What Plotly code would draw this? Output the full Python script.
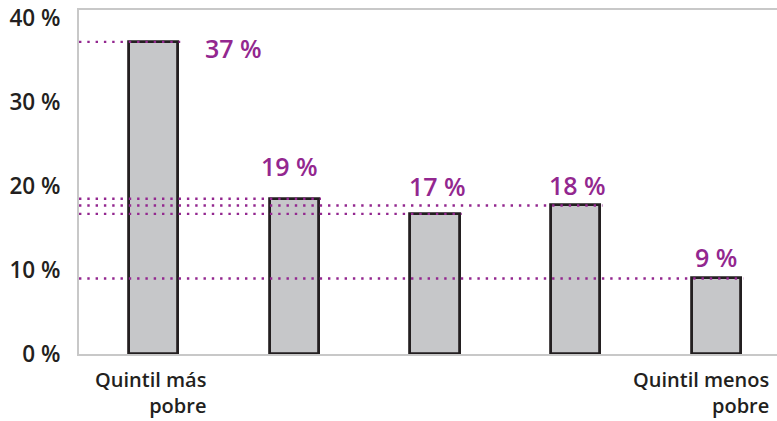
import plotly.graph_objects as go

# Data
categories = ["Quintil más pobre", "Q2", "Q3", "Q4", "Quintil menos pobre"]
values = [37.2, 18.5, 16.7, 17.7, 9.0]
value_labels = ["37 %", "19 %", "17 %", "18 %", "9 %"]
cat_labels = ["Quintil más<br>pobre", "", "", "", "Quintil menos<br>pobre"]
y_ticks = [0, 10, 20, 30, 40]
y_tick_labels = ["0 %", "10 %", "20 %", "30 %", "40 %"]

PURPLE = "#93278f"
DARK = "#231f20"
GRID = "#c8c8c8"
FONT = "Open Sans"

x_pos = list(range(len(categories)))
bar_w = 0.35

fig = go.Figure()
fig.add_trace(go.Bar(
    x=x_pos, y=values, width=bar_w,
    marker=dict(color="#c6c7c9", line=dict(color=DARK, width=2.8)),
    hoverinfo="skip", showlegend=False,
))

x_min, x_max = -0.529, 4.43

# dotted reference lines from the y axis to each bar's right edge
for i, v in enumerate(values):
    fig.add_shape(type="line", xref="x", yref="y",
                  x0=x_min, x1=i + 0.19, y0=v, y1=v,
                  line=dict(color=PURPLE, width=2.4, dash="2.4px,5.9px"),
                  layer="above")

# value labels
label_pos = [  # (xanchor, dx, yshift)
    ("left", 0.35, -6),
    ("center", -0.03, 33),
    ("center", 0.015, 28),
    ("center", 0.01, 20),
    ("center", 0.0, 21),
]
for i, (v, t) in enumerate(zip(values, value_labels)):
    xa, dx, ys = label_pos[i]
    fig.add_annotation(x=i + dx, y=v, xref="x", yref="y", text=t,
                       showarrow=False, xanchor=xa, yanchor="middle", yshift=ys,
                       font=dict(family=FONT, size=25, color=PURPLE, weight=600))

# category labels (right aligned)
for i, t in enumerate(cat_labels):
    if not t:
        continue
    fig.add_annotation(x=i + 0.38, y=0, xref="x", yref="paper", text=t,
                       showarrow=False, xanchor="right", yanchor="top", align="right",
                       yshift=-11, borderpad=0,
                       font=dict(family=FONT, size=20, color=DARK, weight=600))

fig.update_layout(
    width=777, height=421,
    margin=dict(l=79, r=0, t=10, b=67),
    paper_bgcolor="white", plot_bgcolor="white",
    bargap=0,
    xaxis=dict(range=[x_min, x_max], showgrid=False, zeroline=False,
               showticklabels=False, ticks="",
               showline=True, linecolor=GRID, linewidth=2, mirror=True),
    yaxis=dict(range=[0, 41.0], showgrid=False, zeroline=False,
               tickvals=y_ticks, ticktext=y_tick_labels, ticks="",
               ticklabelstandoff=12,
               tickfont=dict(family=FONT, size=22.5, color=DARK, weight=600),
               showline=True, linecolor=GRID, linewidth=2, mirror=False),
)

fig.write_html("out.html", config={"displayModeBar": False},
               post_script="document.body.style.margin='0';document.body.style.overflow='hidden';")
